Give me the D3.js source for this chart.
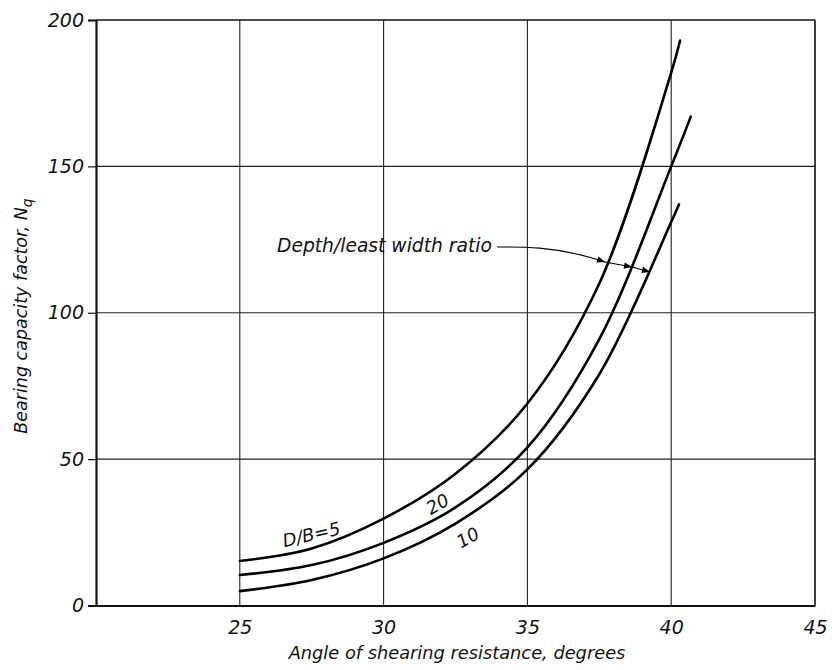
<!DOCTYPE html>
<html>
<head>
<meta charset="utf-8">
<script src="https://cdn.jsdelivr.net/npm/d3@7"></script>
<style>
  body { margin: 0; background: #fff; }
  svg text { font-family: "DejaVu Sans", sans-serif; font-style: italic; fill: #111; }
</style>
</head>
<body>
<svg id="chart" width="832" height="670"></svg>
<script>
// ---- Data ----
const xTicks = [25, 30, 35, 40, 45];
const yTicks = [0, 50, 100, 150, 200];
const xGrid = [25, 30, 35, 40];
const yGrid = [50, 100, 150];

// D/B = 5 (top curve)
const angleDB5 = [25, 27.5, 30, 32.5, 35, 37.5, 40, 40.31];
const nqDB5    = [15.2, 19.5, 29.7, 45, 69, 110, 182, 193];
// D/B = 20 (middle curve)
const angleDB20 = [25, 27.5, 30, 32.5, 35, 37.5, 40, 40.68];
const nqDB20    = [10.4, 13.8, 21.4, 33.5, 54, 91, 150, 167];
// D/B = 10 (bottom curve)
const angleDB10 = [25, 27.5, 30, 32.5, 35, 37.5, 40, 40.27];
const nqDB10    = [4.9, 8.7, 16.1, 28, 46.5, 79, 131, 137];

const curveLabels = ["D/B=5", "20", "10"];

// ---- Layout ----
const svg = d3.select("#chart");
const x = d3.scaleLinear().domain([20, 45]).range([96, 815]);
const y = d3.scaleLinear().domain([0, 200]).range([605.5, 20]);

// Grid
svg.append("g").selectAll("line").data(xGrid).join("line")
  .attr("x1", d => x(d)).attr("x2", d => x(d))
  .attr("y1", y(0)).attr("y2", y(200))
  .attr("stroke", "#222").attr("stroke-width", 1.1);
svg.append("g").selectAll("line").data(yGrid).join("line")
  .attr("x1", x(20)).attr("x2", x(45))
  .attr("y1", d => y(d)).attr("y2", d => y(d))
  .attr("stroke", "#222").attr("stroke-width", 1.1);

// Frame
svg.append("line").attr("x1", x(20)).attr("x2", x(45)).attr("y1", y(200)).attr("y2", y(200))
  .attr("stroke", "#111").attr("stroke-width", 1.6);
svg.append("line").attr("x1", x(45)).attr("x2", x(45)).attr("y1", y(200)).attr("y2", y(0))
  .attr("stroke", "#111").attr("stroke-width", 1.6);

// Axes
const yAxis = d3.axisLeft(y).tickValues(yTicks).tickSize(8).tickPadding(4).tickFormat(d3.format("d"));
const gy = svg.append("g").attr("transform", `translate(${x(20)},0)`).call(yAxis);
gy.select(".domain").attr("stroke", "#111").attr("stroke-width", 2.2);
gy.selectAll(".tick line").attr("stroke", "#111").attr("stroke-width", 1.2);
gy.selectAll(".tick text").attr("font-size", 19).attr("fill", "#111")
  .attr("font-family", "DejaVu Sans").attr("font-style", "italic");

const xAxis = d3.axisBottom(x).tickValues(xTicks).tickSize(0).tickPadding(15).tickFormat(d3.format("d"));
const gx = svg.append("g").attr("transform", `translate(0,${y(0)})`).call(xAxis);
gx.select(".domain").attr("stroke", "#111").attr("stroke-width", 2.2);
gx.selectAll(".tick text").attr("font-size", 19).attr("fill", "#111")
  .attr("font-family", "DejaVu Sans").attr("font-style", "italic");

// Curves
const line = d3.line().x(d => x(d[0])).y(d => y(d[1])).curve(d3.curveCatmullRom.alpha(0.5));
const series = [
  d3.zip(angleDB5, nqDB5),
  d3.zip(angleDB20, nqDB20),
  d3.zip(angleDB10, nqDB10)
];
svg.append("g").selectAll("path").data(series).join("path")
  .attr("d", line).attr("fill", "none").attr("stroke", "#000")
  .attr("stroke-width", 2.6).attr("stroke-linecap", "round");

// Curve labels
const lab = [
  {t: curveLabels[0], a: 27.5, v: 23.8, r: -13},
  {t: curveLabels[1], a: 31.9, v: 34.3, r: -30},
  {t: curveLabels[2], a: 32.95, v: 22.8, r: -30}
];
svg.append("g").selectAll("text").data(lab).join("text")
  .attr("transform", d => `translate(${x(d.a)},${y(d.v)}) rotate(${d.r})`)
  .attr("text-anchor", "middle").attr("dominant-baseline", "middle")
  .attr("font-size", 18).attr("font-style", "normal")
  .text(d => d.t);

// Annotation
svg.append("text").attr("x", 277).attr("y", 252).attr("font-size", 18.7)
  .text("Depth/least width ratio");
const defs = svg.append("defs");
defs.append("marker").attr("id", "arr").attr("viewBox", "0 0 10 10")
  .attr("refX", 10).attr("refY", 5).attr("markerWidth", 12).attr("markerHeight", 8)
  .attr("markerUnits", "userSpaceOnUse").attr("orient", "auto")
  .append("path").attr("d", "M0,1 L10,5 L0,9 Z").attr("fill", "#000");
svg.append("path")
  .attr("d", d3.line().curve(d3.curveBasis)([[497, 247], [540, 247], [580, 254], [605, 262]]))
  .attr("fill", "none").attr("stroke", "#000").attr("stroke-width", 1.1).attr("marker-end", "url(#arr)");
svg.append("path").attr("d", "M605,262 L632,267")
  .attr("fill", "none").attr("stroke", "#000").attr("stroke-width", 1.1).attr("marker-end", "url(#arr)");
svg.append("path").attr("d", "M632,267 L650,272")
  .attr("fill", "none").attr("stroke", "#000").attr("stroke-width", 1.1).attr("marker-end", "url(#arr)");

// Axis titles
svg.append("text").attr("x", 457).attr("y", 659).attr("text-anchor", "middle")
  .attr("font-size", 17.8).text("Angle of shearing resistance, degrees");
const yt = svg.append("text").attr("transform", "translate(27,316) rotate(-90)")
  .attr("text-anchor", "middle").attr("font-size", 17.5);
yt.append("tspan").text("Bearing capacity factor, N");
yt.append("tspan").attr("dy", 5).attr("font-size", 14).text("q");
</script>
</body>
</html>
